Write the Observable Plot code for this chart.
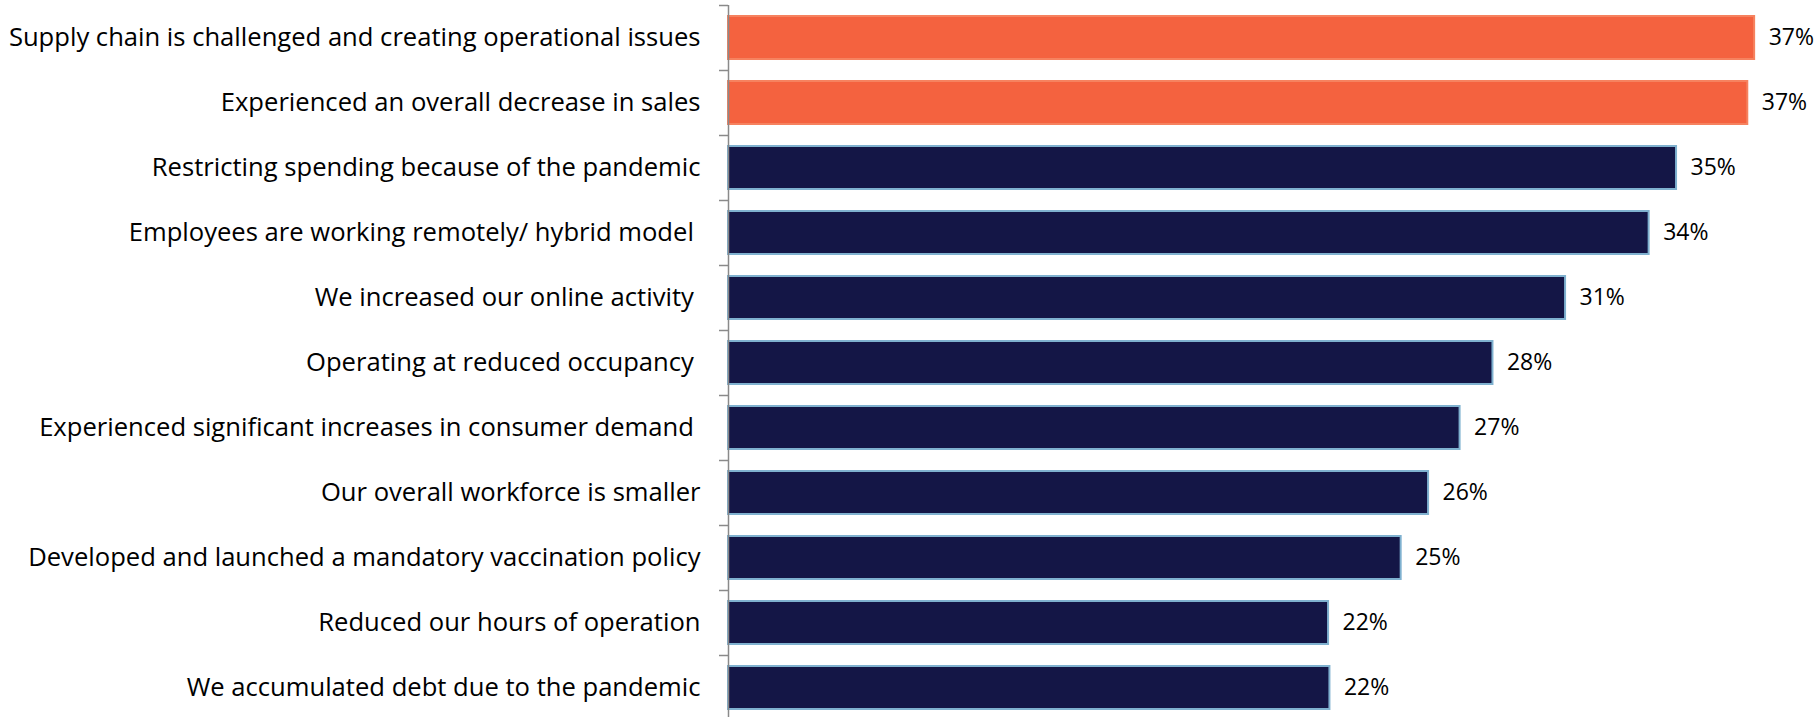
<!DOCTYPE html>
<html>
<head>
<meta charset="utf-8">
<script src="https://cdn.jsdelivr.net/npm/d3@7"></script>
<script src="https://cdn.jsdelivr.net/npm/@observablehq/plot@0.6"></script>
<style>
  html, body { margin: 0; padding: 0; background: #fff; }
  #chart svg { display: block; }
</style>
</head>
<body>
<div id="chart"></div>
<script>
const categories = [
  "Supply chain is challenged and creating operational issues",
  "Experienced an overall decrease in sales",
  "Restricting spending because of the pandemic",
  "Employees are working remotely/ hybrid model\u00a0",
  "We increased our online activity\u00a0",
  "Operating at reduced occupancy\u00a0",
  "Experienced significant increases in consumer demand\u00a0",
  "Our overall workforce is smaller",
  "Developed and launched a mandatory vaccination policy",
  "Reduced our hours of operation",
  "We accumulated debt due to the pandemic"
];
const values = [37.45, 37.2, 34.6, 33.6, 30.55, 27.9, 26.7, 25.55, 24.55, 21.9, 21.95];
const highlighted = [true, true, false, false, false, false, false, false, false, false, false];

const data = categories.map((c, i) => ({category: c, value: values[i], hi: highlighted[i]}));

const axisX = 728;
const pxPerPct = 27.4;

const chart = Plot.plot({
  width: 1818,
  height: 717,
  marginTop: 5,
  marginBottom: 0,
  marginLeft: axisX,
  marginRight: 0,
  style: {fontFamily: "'Open Sans', Lato, sans-serif", background: "#fff"},
  x: {domain: [0, 40], range: [axisX, axisX + 40 * pxPerPct], axis: null},
  y: {domain: categories, range: [5, 720], paddingInner: 0.34, paddingOuter: 0.17, axis: null},
  marks: [
    Plot.barX(data, {
      y: "category",
      x: "value",
      fill: d => d.hi ? "#F4623F" : "#141646",
      stroke: d => d.hi ? "#F6825F" : "#7FB1CF",
      strokeWidth: 2
    }),
    Plot.ruleX([0], {stroke: "#8a8a8a", strokeWidth: 1.5}),
    Plot.ruleY(categories, {
      y: d => d,
      x1: -9 / pxPerPct,
      x2: 0,
      dy: -32.5,
      stroke: "#8a8a8a",
      strokeWidth: 1.5
    }),
    Plot.text(categories, {
      y: d => d,
      x: 0,
      text: d => d,
      textAnchor: "end",
      dx: -28,
      fontSize: 25.6,
      fill: "#000"
    }),
    Plot.text(data, {
      y: "category",
      x: "value",
      text: d => d3.format(".0f")(d.value) + "%",
      textAnchor: "start",
      dx: 14,
      fontSize: 23,
      fill: "#000"
    })
  ]
});
document.getElementById("chart").appendChild(chart);
</script>
</body>
</html>
